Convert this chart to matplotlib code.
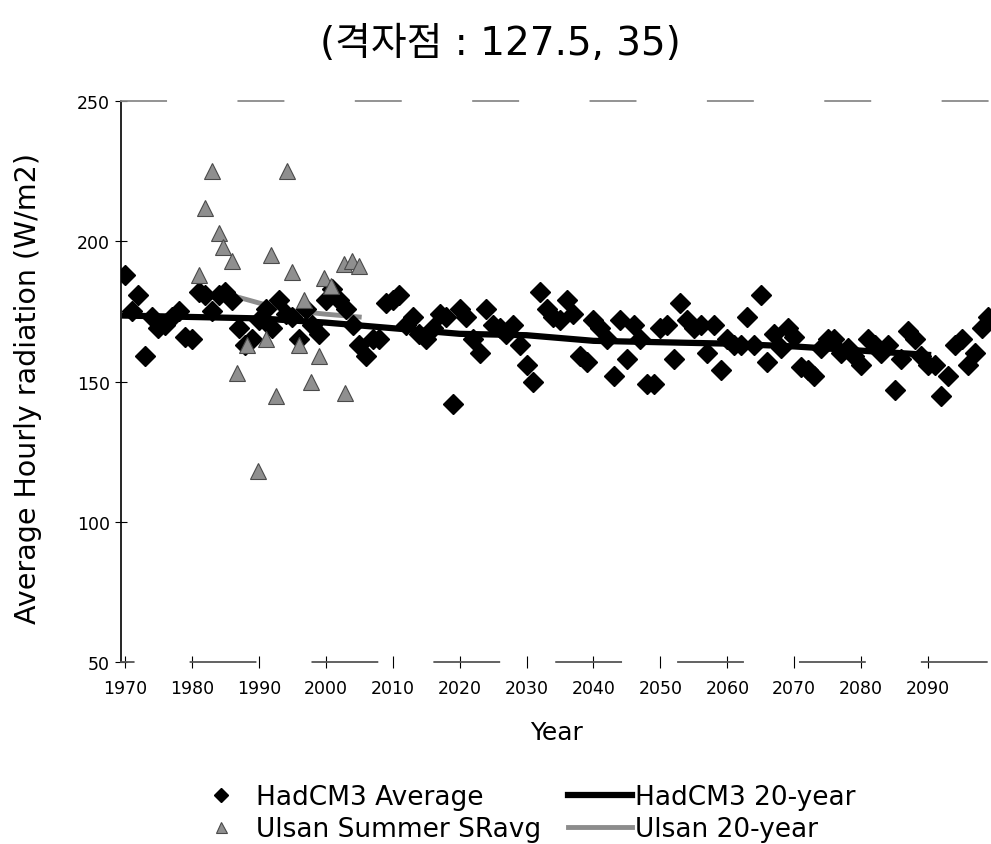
import matplotlib
matplotlib.use("Agg")
import matplotlib.pyplot as plt

plt.rcParams['font.family'] = ['DejaVu Sans', 'Noto Sans CJK KR']

# HadCM3 simulated annual mean (1970-2099)
had_years = list(range(1970, 2100))
had_values = [
    188, 175, 181, 159, 173, 169, 170, 173, 175, 166,
    165, 182, 181, 175, 181, 182, 179, 169, 163, 165,
    172, 176, 169, 179, 174, 173, 165, 176, 170, 167,
    179, 183, 179, 176, 170, 163, 159, 165, 165, 178,
    179, 181, 170, 173, 167, 165, 169, 174, 173, 142,
    176, 173, 165, 160, 176, 170, 169, 167, 170, 163,
    156, 150, 182, 176, 173, 172, 179, 174, 159, 157,
    172, 169, 165, 152, 172, 158, 170, 165, 149, 149,
    169, 170, 158, 178, 172, 169, 170, 160, 170, 154,
    165, 163, 163, 173, 163, 181, 157, 167, 162, 169,
    166, 155, 154, 152, 162, 165, 165, 160, 162, 159,
    156, 165, 163, 160, 163, 147, 158, 168, 165, 159,
    156, 156, 145, 152, 163, 165, 156, 160, 169, 173,
]

# HadCM3 20-year running mean
had20_years = [1970, 1980, 1990, 2000, 2010, 2020, 2030, 2040, 2050, 2060, 2070, 2080, 2090]
had20_values = [173.5, 173.0, 172.5, 171.0, 169.0, 167.0, 166.5, 164.5, 164.0, 163.5, 162.5, 161.0, 159.5]

# Ulsan observed summer solar radiation (1980-2005)
ulsan_years = [1981, 1982, 1983, 1984, 1984.7, 1986, 1986.8, 1988.3, 1989.8, 1991.1,
               1991.8, 1992.6, 1994.2, 1995, 1996, 1996.7, 1997.8, 1999, 1999.7, 2000.8,
               2002.7, 2002.8, 2003.9, 2004.9]
ulsan_values = [188, 212, 225, 203, 198, 193, 153, 163, 118, 165,
                195, 145, 225, 189, 163, 179, 150, 159, 187, 184,
                192, 146, 193, 191]

# Ulsan 20-year running mean
ulsan20_years = [1987, 1990, 1994, 2000, 2005]
ulsan20_values = [180, 178, 175.5, 174, 173]

W, H = 991, 845
fig = plt.figure(figsize=(W / 100, H / 100), dpi=100)
ax = fig.add_axes([121 / W, (H - 663) / H, (W - 121) / W, (663 - 102) / H])

ax.plot(ulsan20_years, ulsan20_values, color='#8c8c8c', lw=3.5, zorder=2,
        label='Ulsan 20-year')
ax.plot(had_years, had_values, linestyle='none', marker='D', ms=10.5,
        color='black', zorder=3, label='HadCM3 Average')
ax.plot(ulsan_years, ulsan_values, linestyle='none', marker='^', ms=11,
        markerfacecolor='#8f8f8f', markeredgecolor='#4a4a4a', markeredgewidth=0.8,
        zorder=4, label='Ulsan Summer SRavg')
ax.plot(had20_years, had20_values, color='black', lw=4.5, zorder=3,
        label='HadCM3 20-year')

ax.set_xlim(1969.4, 2099.4)
ax.set_ylim(50, 250)
ax.set_xticks(range(1970, 2100, 10))
ax.set_yticks([50, 100, 150, 200, 250])
ax.tick_params(axis='both', direction='inout', length=8, width=0.8,
               labelsize=12.5, colors='black')
ax.tick_params(axis='x', pad=8)
ax.tick_params(axis='y', pad=4)

ax.spines['right'].set_visible(False)
ax.spines['left'].set_linewidth(1.2)
ax.spines['top'].set_color('#8a8a8a')
ax.spines['top'].set_linewidth(1.3)
ax.spines['top'].set_linestyle((0, (25, 40)))
ax.spines['bottom'].set_color('#555555')
ax.spines['bottom'].set_linewidth(1.3)
ax.spines['bottom'].set_linestyle((29, (36, 31.5)))

ax.set_xlabel('Year', fontsize=18)
ax.xaxis.set_label_coords(0.501, -0.103)
ax.set_ylabel('Average Hourly radiation (W/m2)', fontsize=20.5)
ax.yaxis.set_label_coords(-0.091, 0.49)

fig.text(0.505, 0.948, '(격자점 : 127.5, 35)', ha='center', va='center',
         fontsize=28, family=['DejaVu Sans', 'Noto Sans CJK KR'])

h, l = ax.get_legend_handles_labels()
order = ['HadCM3 Average', 'Ulsan Summer SRavg', 'HadCM3 20-year', 'Ulsan 20-year']
hd = dict(zip(l, h))
fig.legend([hd[k] for k in order], order, ncol=2, frameon=False,
           loc='center', bbox_to_anchor=(522 / W, 1 - 814 / H), fontsize=19,
           handlelength=2.46, handletextpad=0.1, columnspacing=1.0,
           labelspacing=0.22, markerscale=0.72, borderpad=0.2)

fig.savefig('out.png', dpi=100)
